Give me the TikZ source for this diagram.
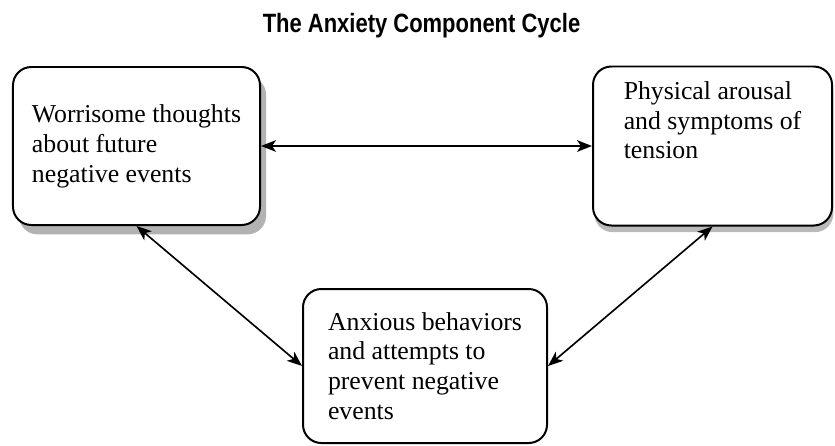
\documentclass[tikz,border=0pt]{standalone}
\usepackage{fontspec}
\setmainfont{Liberation Serif}
\newfontfamily\headfont[FakeStretch=0.83]{Liberation Sans}
\usetikzlibrary{positioning,arrows.meta,shadows}

\begin{document}
\begin{tikzpicture}[x=0.03cm,y=-0.03cm,on grid,
    box/.style={draw,fill=white,line width=1.7pt,rounded corners=0.55cm,align=left,
        font=\fontsize{22}{25.5}\selectfont},
    grain/.style={drop shadow={shadow xshift=0.18cm,shadow yshift=-0.28cm,fill=black!60,opacity=0.5}},
    thin grain/.style={drop shadow={shadow xshift=0.04cm,shadow yshift=-0.2cm,fill=black!60,opacity=0.45}},
    link/.style={{Stealth[length=0.45cm,width=0.35cm,inset=0.12cm]}-{Stealth[length=0.45cm,width=0.35cm,inset=0.12cm]},
        line width=1.4pt}]
    \useasboundingbox (0,0) rectangle (835,446);
    \node[font=\headfont\bfseries\fontsize{22.6}{26}\selectfont,anchor=base] (title) at (421.5,32)
        {The Anxiety Component Cycle};
    \node[box,grain,minimum width=7.41cm,minimum height=4.74cm] (worry) at (136.5,146)
        {Worrisome thoughts\\about future\\negative events};
    \node[box,thin grain,minimum width=7.17cm,minimum height=4.77cm,text depth=1.55cm] (arousal) [right=17.28cm of worry]
        {Physical arousal\\and symptoms of\\tension};
    \node[box,minimum width=7.32cm,minimum height=4.62cm] (behave) [below right=6.6cm and 8.655cm of worry]
        {Anxious behaviors\\and attempts to\\prevent negative\\events};
    \draw[link] (worry) -- (arousal);
    \draw[link] (worry.south) -- (behave.west);
    \draw[link] (arousal.south) -- (behave.east);
\end{tikzpicture}
\end{document}
